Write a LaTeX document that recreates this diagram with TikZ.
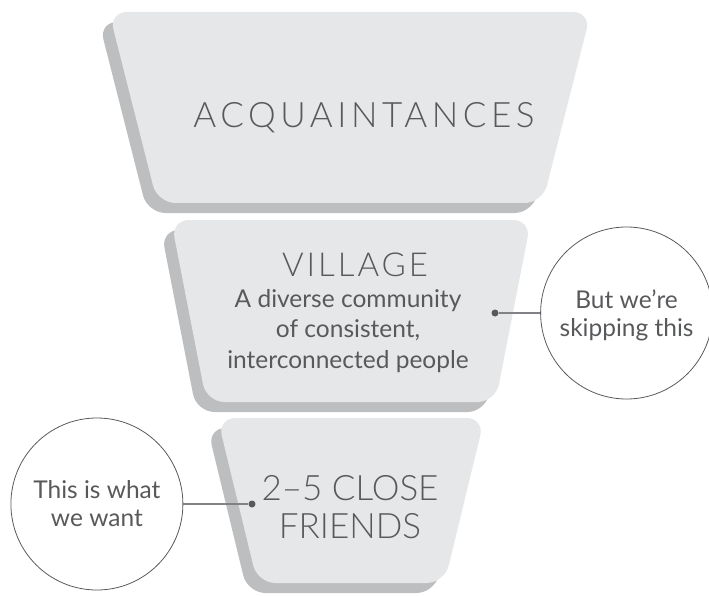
\documentclass[tikz,border=0pt]{standalone}
\usepackage{fontspec}
\setmainfont{Lato}
\newfontfamily\lightfont{Lato Light}
\usetikzlibrary{positioning}

\definecolor{funnelgray}{HTML}{E6E7E8}
\definecolor{shadowgray}{HTML}{BCBEC0}
\definecolor{textgray}{HTML}{58595B}
\definecolor{linegray}{HTML}{808285}

\begin{document}
\begin{tikzpicture}[x=1pt,y=-1pt,
  funnelback/.style={fill=shadowgray,rounded corners=18pt},
  funnelfront/.style={fill=funnelgray,rounded corners=18pt},
  heading/.style={text=textgray,inner sep=0pt,align=center,
    font=\lightfont\fontsize{35}{38}\selectfont},
  body/.style={text=textgray,inner sep=0pt,align=center,
    font=\fontsize{24.5}{30.5}\selectfont},
  bubble/.style={circle,draw=textgray,line width=0.8pt,minimum size=172pt,
    inner sep=0pt,align=center,text=textgray,
    font=\fontsize{24.5}{28}\selectfont},
  dotmark/.style={circle,fill=textgray,inner sep=0pt,minimum size=7pt},
  connector/.style={draw=linegray,line width=1.2pt}]
  \useasboundingbox (0,0) rectangle (709,596);

  % acquaintances
  \fill[funnelback,shift={(-10,10)}] (109,12) -- (591,12) -- (542.5,203) -- (157.5,203) -- cycle;
  \fill[funnelfront] (109,12) -- (591,12) -- (542.5,203) -- (157.5,203) -- cycle;
  \node[heading,anchor=base,font=\lightfont\fontsize{35}{38}\selectfont\addfontfeature{LetterSpace=13}]
    (acq) at (364,128) {ACQUAINTANCES};

  % village
  \fill[funnelback,shift={(-10,10)}] (171,220) -- (531,220) -- (495.5,402) -- (206.5,402) -- cycle;
  \fill[funnelfront] (171,220) -- (531,220) -- (495.5,402) -- (206.5,402) -- cycle;
  \node[heading,anchor=base,font=\lightfont\fontsize{33}{33}\selectfont\addfontfeature{LetterSpace=9}]
    (vil) at (355,276) {VILLAGE};
  \node[body,anchor=base] (vildesc) at (348,368)
    {A diverse community\\of consistent,\\interconnected people};

  % close friends
  \fill[funnelback,shift={(-10,10)}] (217.5,418) -- (484.5,418) -- (444.5,583) -- (257.5,583) -- cycle;
  \fill[funnelfront] (217.5,418) -- (484.5,418) -- (444.5,583) -- (257.5,583) -- cycle;
  \node[heading,anchor=base] (close) at (350,538) {2–5 CLOSE\\FRIENDS};

  % bubbles
  \node[dotmark] (vdot) at (495,313) {};
  \node[bubble,right=41.5pt of vdot,text depth=0pt] (skip) {But we're\\skipping this};
  \draw[connector] (vdot) -- (skip);

  \node[dotmark] (fdot) at (252,504) {};
  \node[bubble,left=65pt of fdot] (want) {This is what\\we want};
  \draw[connector] (want) -- (fdot);
\end{tikzpicture}
\end{document}
